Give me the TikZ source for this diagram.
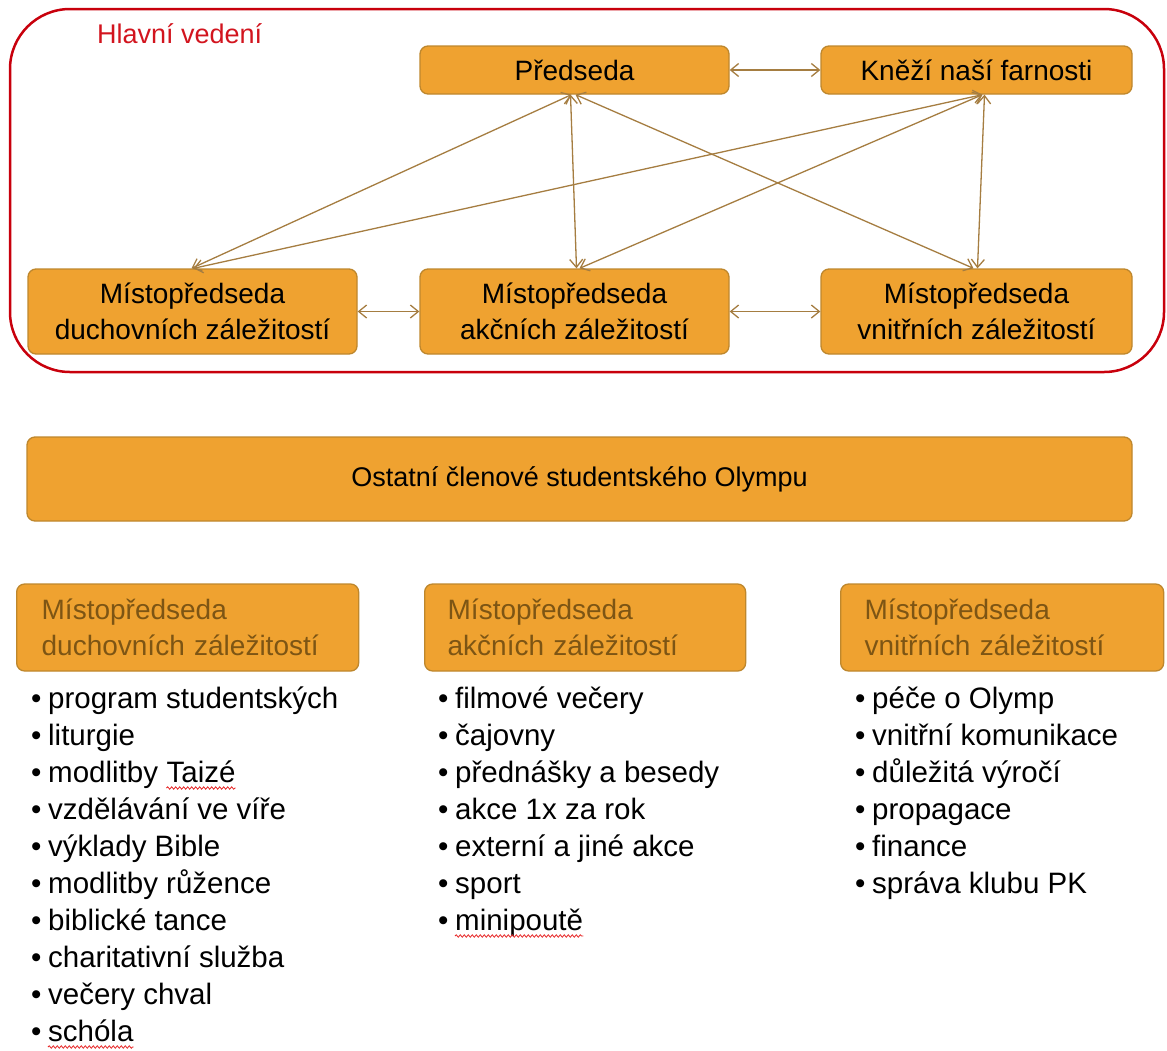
\documentclass[tikz,border=0pt]{standalone}
\usepackage{fontspec}
\setmainfont{Liberation Sans}
\usetikzlibrary{arrows.meta,decorations.pathmorphing}
\definecolor{boxfill}{RGB}{239,162,48}
\definecolor{boxline}{RGB}{190,135,45}
\definecolor{linkcol}{RGB}{165,125,65}
\definecolor{subtext}{RGB}{125,85,20}
\definecolor{framecol}{RGB}{200,0,12}
\definecolor{titlecol}{RGB}{210,20,30}
\definecolor{wavecol}{RGB}{230,40,40}
\newcommand\bul{\makebox[17pt][l]{•}}
\begin{document}
\begin{tikzpicture}[x=1pt,y=-1pt,
  box/.style={rounded corners=8pt, fill=boxfill, draw=boxline, line width=1.3pt,
    align=center, inner sep=0pt, font=\fontsize{28}{36}\selectfont},
  subbox/.style={box, text=subtext, align=left, anchor=west, inner ysep=0pt, minimum height=87pt},
  link/.style={draw=linkcol, line width=1.3pt,
    {Straight Barb[length=8pt,width=13pt]}-{Straight Barb[length=8pt,width=13pt]}},
  item/.style={inner sep=0pt, anchor=base west, font=\fontsize{29.5}{37}\selectfont},
  wavy/.style={draw=wavecol, line width=0.8pt, decorate,
    decoration={snake, amplitude=1.2pt, segment length=4pt}},
  frame/.style={draw=framecol, line width=2.5pt, rounded corners=60pt}]
\useasboundingbox (0,0) rectangle (1167,1050);

% main frame
\draw[frame] (10,9) rectangle (1164,372);
\node[anchor=west, inner sep=0pt, text=titlecol, font=\fontsize{27}{32}\selectfont] (title) at (97,34) {Hlavní vedení};

% top boxes
\node[box, minimum width=309pt, minimum height=48pt] (P) at (574.5,70) {Předseda};
\node[box, minimum width=311pt, minimum height=48pt] (K) at (976.5,70) {Kněží naší farnosti};
\node[box, minimum width=329pt, minimum height=85pt, text depth=-2pt] (D) at (192.5,311.5) {Místopředseda\\duchovních záležitostí};
\node[box, minimum width=309pt, minimum height=85pt, text depth=-2pt] (A) at (574.5,311.5) {Místopředseda\\akčních záležitostí};
\node[box, minimum width=311pt, minimum height=85pt, text depth=-2pt] (V) at (976.5,311.5) {Místopředseda\\vnitřních záležitostí};

% connectors
\draw[link] (P.east) -- (K.west);
\draw[link] (D.east) -- (A.west);
\draw[link] (A.east) -- (V.west);
\draw[link] ([xshift=-3pt]P.south) -- ([xshift=-1pt]D.north);
\draw[link] ([xshift=-4pt]P.south) -- ([xshift=2pt]A.north);
\draw[link] ([xshift=1pt]P.south) -- ([xshift=-3pt]V.north);
\draw[link] ([xshift=6pt]K.south) -- ([xshift=1pt]D.north);
\draw[link] ([xshift=6pt]K.south) -- ([xshift=5pt]A.north);
\draw[link] ([xshift=8pt]K.south) -- ([xshift=1pt]V.north);

% others
\node[box, minimum width=1105pt, minimum height=84pt, font=\fontsize{27}{32}\selectfont] (O) at (579.5,479) {\raisebox{-3pt}{Ostatní členové studentského Olympu}};

% lower boxes
\node[subbox, text width=292pt, inner xsep=25pt] (DB) at (16,627.5) {Místopředseda\\duchovních záležitostí};
\node[subbox, text width=275pt, inner xsep=23pt] (AB) at (424,627.5) {Místopředseda\\akčních záležitostí};
\node[subbox, text width=275pt, inner xsep=24pt] (VB) at (840,627.5) {Místopředseda\\vnitřních záležitostí};

% list 1
\node[item] (d0) at (31,708) {\bul program studentských};
\node[item] (d1) at (31,745) {\bul liturgie};
\node[item] (d2) at (31,782) {\bul modlitby\ \null};
\node[item] (tz) at (d2.base east) {Taizé};
\node[item] (d3) at (31,819) {\bul vzdělávání ve víře};
\node[item] (d4) at (31,856) {\bul výklady Bible};
\node[item] (d5) at (31,893) {\bul modlitby růžence};
\node[item] (d6) at (31,930) {\bul biblické tance};
\node[item] (d7) at (31,967) {\bul charitativní služba};
\node[item] (d8) at (31,1004) {\bul večery chval};
\node[item] (d9) at (31,1041) {\bul schóla};
\draw[wavy] ([yshift=-6pt]tz.base west) -- ([yshift=-6pt]tz.base east);
\draw[wavy] ([yshift=-6pt,xshift=17pt]d9.base west) -- ([yshift=-6pt]d9.base east);

% list 2
\node[item] (a0) at (438,708) {\bul filmové večery};
\node[item] (a1) at (438,745) {\bul čajovny};
\node[item] (a2) at (438,782) {\bul přednášky a besedy};
\node[item] (a3) at (438,819) {\bul akce 1x za rok};
\node[item] (a4) at (438,856) {\bul externí a jiné akce};
\node[item] (a5) at (438,893) {\bul sport};
\node[item] (a6) at (438,930) {\bul minipoutě};
\draw[wavy] ([yshift=-6pt,xshift=17pt]a6.base west) -- ([yshift=-6pt]a6.base east);

% list 3
\node[item] (v0) at (855,708) {\bul péče o Olymp};
\node[item] (v1) at (855,745) {\bul vnitřní komunikace};
\node[item] (v2) at (855,782) {\bul důležitá výročí};
\node[item] (v3) at (855,819) {\bul propagace};
\node[item] (v4) at (855,856) {\bul finance};
\node[item] (v5) at (855,893) {\bul správa klubu PK};
\end{tikzpicture}
\end{document}
